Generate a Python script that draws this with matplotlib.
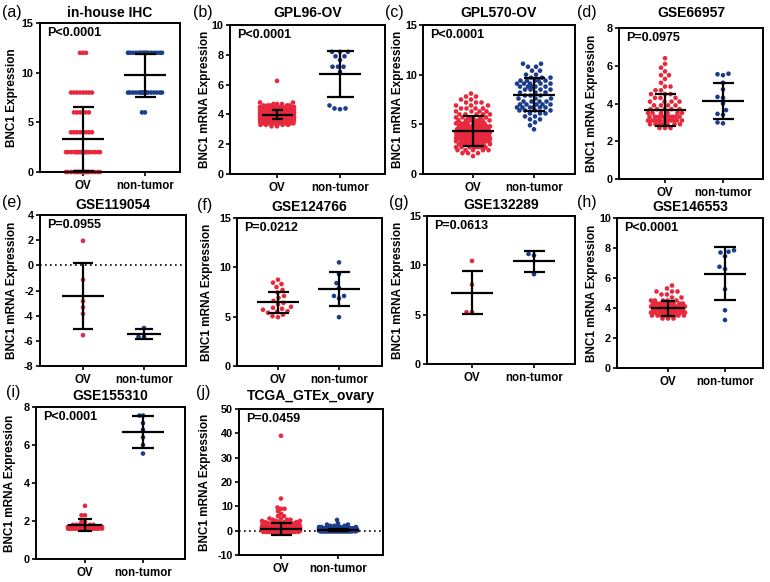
import numpy as np
import matplotlib
matplotlib.use("Agg")
import matplotlib.pyplot as plt

plt.rcParams['font.family'] = ['Liberation Sans', 'DejaVu Sans']

RED = "#e8283c"
BLUE = "#1c3d8c"

groups = ["OV", "non-tumor"]

# --------------------------------------------------
# data
# dense groups are given as value levels + counts
# --------------------------------------------------
# (a) in-house IHC (discrete scores)
ihc_ov_levels = [0, 2, 4, 6, 8, 12]
ihc_ov_counts = [18, 18, 8, 6, 8, 3]
ihc_nt_levels = [6, 8, 12]
ihc_nt_counts = [2, 16, 16]
ihc_mean = [3.3, 9.75]
ihc_sd = [3.2, 2.15]

# (b) GPL96-OV
gpl96_ov_levels = [3.2, 3.3, 3.4, 3.5, 3.6, 3.7, 3.8, 3.9, 4.0, 4.1, 4.2, 4.3,
                   4.4, 4.5, 4.6, 4.7, 4.8, 6.25]
gpl96_ov_counts = [2, 4, 8, 14, 22, 30, 38, 42, 42, 36, 28, 20, 12, 8, 5, 3, 2, 1]
gpl96_nt = [8.2, 8.2, 8.2, 7.9, 7.9, 7.65, 7.2, 7.2, 7.2, 6.85, 4.6, 4.4, 4.35, 4.4]
gpl96_mean = [3.98, 6.72]
gpl96_sd = [0.3, 1.55]

# (c) GPL570-OV
gpl570_ov_levels = [1.8, 2.1, 2.4, 2.7, 3.0, 3.3, 3.6, 3.9, 4.2, 4.5, 4.8, 5.1,
                    5.4, 5.7, 6.0, 6.3, 6.6, 6.9, 7.2, 7.5, 7.8, 8.1]
gpl570_ov_counts = [1, 3, 5, 7, 9, 11, 12, 12, 12, 11, 10, 8, 7, 6, 5, 4, 4, 3,
                    3, 2, 2, 1]
gpl570_nt_levels = [4.5, 4.9, 5.2, 5.5, 5.8, 6.1, 6.4, 6.7, 7.0, 7.3, 7.6, 7.9,
                    8.2, 8.5, 8.8, 9.1, 9.4, 9.7, 10.0, 10.4, 10.8, 11.1]
gpl570_nt_counts = [1, 1, 1, 2, 2, 3, 4, 6, 5, 4, 3, 3, 3, 4, 5, 5, 5, 3, 2, 2,
                    2, 2]
gpl570_mean = [4.33, 8.0]
gpl570_sd = [1.51, 1.63]

# (d) GSE66957
gse66957_ov_levels = [2.7, 2.9, 3.1, 3.3, 3.5, 3.7, 3.9, 4.1, 4.3, 4.5, 4.7, 4.9,
                      5.1, 5.3, 5.5, 5.7, 5.9, 6.1, 6.4]
gse66957_ov_counts = [3, 7, 11, 9, 6, 5, 4, 4, 3, 3, 2, 2, 1, 1, 2, 1, 1, 1, 1]
gse66957_nt = [5.55, 5.5, 5.58, 5.1, 4.75, 4.35, 4.3, 4.0, 3.65, 3.45, 3.4, 3.0, 2.95]
gse66957_mean = [3.65, 4.15]
gse66957_sd = [0.84, 0.96]

# (e) GSE119054
gse119054_ov = [1.95, -1.15, -2.85, -3.35, -3.85, -5.55]
gse119054_nt = [-4.98, -5.68, -5.68]
gse119054_mean = [-2.45, -5.45]
gse119054_sd = [2.6, 0.43]

# (f) GSE124766
gse124766_ov = [8.75, 8.45, 8.3, 8.0, 7.7, 7.45, 7.1, 6.9, 6.6, 6.4, 6.25, 6.0,
                5.9, 5.8, 5.7, 5.55, 5.5, 5.4, 5.2, 5.05, 4.95]
gse124766_nt = [10.5, 9.3, 8.4, 7.9, 7.1, 7.1, 6.85, 4.95]
gse124766_mean = [6.45, 7.78]
gse124766_sd = [1.1, 1.7]

# (g) GSE132289
gse132289_ov = [10.45, 8.05, 5.25, 5.25]
gse132289_nt = [11.15, 11.0, 9.1]
gse132289_mean = [7.24, 10.4]
gse132289_sd = [2.2, 1.1]

# (h) GSE146553
gse146553_ov_levels = [3.3, 3.5, 3.7, 3.9, 4.1, 4.3, 4.5, 4.7, 4.9, 5.1, 5.3, 5.5]
gse146553_ov_counts = [3, 8, 12, 14, 12, 8, 5, 2, 2, 3, 1, 1]
gse146553_nt = [7.7, 7.75, 7.85, 7.45, 6.75, 6.6, 5.25, 3.85, 3.2]
gse146553_mean = [3.97, 6.3]
gse146553_sd = [0.5, 1.75]

# (i) GSE155310
gse155310_ov_levels = [1.6, 1.7, 1.8, 1.95, 2.3, 2.8]
gse155310_ov_counts = [20, 20, 6, 2, 2, 1]
gse155310_nt = [7.55, 7.55, 7.15, 6.8, 6.4, 6.0, 5.55]
gse155310_mean = [1.78, 6.69]
gse155310_sd = [0.33, 0.85]

# (j) TCGA_GTEx_ovary
tcga_ov_levels = [-0.5, 0.0, 0.5, 1.0, 1.5, 2.0, 2.5, 3.0, 3.5, 4.0, 4.5, 5.0,
                  6.0, 7.0, 8.0, 9.0, 9.5, 13.2, 39.0]
tcga_ov_counts = [20, 120, 150, 90, 35, 18, 9, 6, 4, 3, 3, 2, 2, 1, 1, 2, 1, 1, 1]
tcga_nt_levels = [-0.3, 0.0, 0.3, 0.6, 1.0, 1.5, 2.0, 2.5, 3.0, 4.4]
tcga_nt_counts = [20, 60, 70, 40, 15, 5, 3, 2, 1, 1]
tcga_mean = [0.75, 0.35]
tcga_sd = [2.55, 0.45]


def expand(levels, counts):
    return np.repeat(np.asarray(levels, float), counts)


# --------------------------------------------------
# panel layout (pixel boxes: left, top, right, bottom)
# --------------------------------------------------
panels = [
    dict(lab="(a)", title="in-house IHC", p="P<0.0001", ylab="BNC1 Expression",
         box=(40, 23, 180, 172), tk=(83, 145), ylim=(0, 15), yt=[0, 5, 10, 15],
         vals=(expand(ihc_ov_levels, ihc_ov_counts), expand(ihc_nt_levels, ihc_nt_counts)),
         mean=ihc_mean, sd=ihc_sd, labxy=(2, 13), ty=13, ylx=12, gap=2.8),
    dict(lab="(b)", title="GPL96-OV", p="P<0.0001", box=(230, 25, 385, 174),
         tk=(277, 340), ylim=(0, 10), yt=[0, 2, 4, 6, 8, 10],
         vals=(expand(gpl96_ov_levels, gpl96_ov_counts), gpl96_nt),
         mean=gpl96_mean, sd=gpl96_sd, labxy=(193, 13), ty=13, ylx=205,
         bars=[(15.5, 5.5), (21, 13.5)]),
    dict(lab="(c)", title="GPL570-OV", p="P<0.0001", box=(423, 25, 575, 174),
         tk=(473, 534), ylim=(0, 15), yt=[0, 5, 10, 15],
         vals=(expand(gpl570_ov_levels, gpl570_ov_counts),
               expand(gpl570_nt_levels, gpl570_nt_counts)),
         mean=gpl570_mean, sd=gpl570_sd, labxy=(385, 13), ty=13, ylx=398),
    dict(lab="(d)", title="GSE66957", p="P=0.0975", box=(619, 28, 763, 179),
         tk=(665, 723), ylim=(0, 8), yt=[0, 2, 4, 6, 8],
         vals=(expand(gse66957_ov_levels, gse66957_ov_counts), gse66957_nt),
         mean=gse66957_mean, sd=gse66957_sd, labxy=(577, 13), ty=13, ylx=592),
    dict(lab="(e)", title="GSE119054", p="P=0.0955", box=(40, 215, 186, 366),
         tk=(83, 144), ylim=(-8, 4), yt=[-8, -6, -4, -2, 0, 2, 4],
         vals=(gse119054_ov, gse119054_nt), mean=gse119054_mean, sd=gse119054_sd,
         labxy=(2, 203), ty=205, ylx=12, zero=True, bars=[(21, 10), (16.7, 8.7)]),
    dict(lab="(f)", title="GSE124766", p="P=0.0212", box=(237, 218, 382, 366),
         tk=(278, 339), ylim=(0, 15), yt=[0, 5, 10, 15],
         vals=(gse124766_ov, gse124766_nt), mean=gse124766_mean, sd=gse124766_sd,
         labxy=(197, 205), ty=207, ylx=207),
    dict(lab="(g)", title="GSE132289", p="P=0.0613", box=(427, 216, 575, 364),
         tk=(472, 534), ylim=(0, 15), yt=[0, 5, 10, 15],
         vals=(gse132289_ov, gse132289_nt), mean=gse132289_mean, sd=gse132289_sd,
         labxy=(389, 203), ty=205, ylx=398),
    dict(lab="(h)", title="GSE146553", p="P<0.0001", box=(617, 218, 763, 368),
         tk=(668, 725), ylim=(0, 10), yt=[0, 2, 4, 6, 8, 10],
         vals=(expand(gse146553_ov_levels, gse146553_ov_counts), gse146553_nt),
         mean=gse146553_mean, sd=gse146553_sd, labxy=(577, 203), ty=207, ylx=592,
         bars=[(16.7, 7), (21, 11)]),
    dict(lab="(i)", title="GSE155310", p="P<0.0001", box=(36, 407, 185, 559),
         tk=(85, 143), ylim=(0, 8), yt=[0, 2, 4, 6, 8],
         vals=(expand(gse155310_ov_levels, gse155310_ov_counts), gse155310_nt),
         mean=gse155310_mean, sd=gse155310_sd, labxy=(6, 393), ty=396, ylx=10,
         bars=[(16.7, 6.7), (21, 10.7)], gap=3.2),
    dict(lab="(j)", title="TCGA_GTEx_ovary", p="P=0.0459", box=(239, 409, 383, 555),
         tk=(281, 338), ylim=(-10, 50), yt=[-10, 0, 10, 20, 30, 40, 50],
         vals=(expand(tcga_ov_levels, tcga_ov_counts), expand(tcga_nt_levels, tcga_nt_counts)),
         mean=tcga_mean, sd=tcga_sd, labxy=(196, 393), ty=396, ylx=205, zero=True,
         half=19, gap=3.5),
]

W, H = 770, 582
fig = plt.figure(figsize=(W / 100, H / 100), dpi=100)


def fx(px):
    return px / W


def fy(py):
    return 1 - py / H


def swarm_x(values, center, sx, sy, half_px, gap=5.5):
    # simple beeswarm in pixel space, clipped to +-half_px
    yp = np.asarray(values, float) * sy
    order = np.argsort(yp, kind="stable")
    cand = np.arange(-half_px, half_px + 0.01, 0.5)
    cand = cand[np.argsort(np.abs(cand), kind="stable")]
    out = np.zeros(len(yp))
    xs_p = np.empty(0)
    ys_p = np.empty(0)
    for i in order:
        near = np.abs(ys_p - yp[i]) < gap
        x = 0.0
        if near.any():
            dx = cand[:, None] - xs_p[near][None, :]
            dy = yp[i] - ys_p[near]
            dist = np.sqrt(dx ** 2 + dy[None, :] ** 2).min(axis=1)
            ok = np.nonzero(dist >= gap)[0]
            x = cand[ok[0]] if len(ok) else cand[np.argmax(dist)]
        out[i] = x
        xs_p = np.append(xs_p, x)
        ys_p = np.append(ys_p, yp[i])
    return center + out / sx


for pn in panels:
    l, t, r, b = pn["box"]
    ax = fig.add_axes([fx(l), fy(b), fx(r - l), (b - t) / H])
    p0, p1 = pn["tk"]
    unit = p1 - p0
    ax.set_xlim((l - p0) / unit, (r - p0) / unit)
    ax.set_ylim(*pn["ylim"])
    sx = unit
    sy = (b - t) / (pn["ylim"][1] - pn["ylim"][0])

    if pn.get("zero"):
        ax.axhline(0, color="black", lw=1.2, ls=(0, (1, 2)), zorder=1)

    half = pn.get("half", 17)
    gap = pn.get("gap", 5.5)
    bars = pn.get("bars", [(21, 10.5), (21, 10.5)])
    for k, (vals, col) in enumerate(zip(pn["vals"], [RED, BLUE])):
        xs = swarm_x(vals, k, sx, sy, half, gap)
        ax.scatter(xs, vals, s=11, color=col, edgecolors="none", zorder=2,
                   clip_on=False)
        m, s = pn["mean"][k], pn["sd"][k]
        mw, cw = bars[k][0] / sx, bars[k][1] / sx
        kw = dict(color="black", lw=1.6, solid_capstyle="butt", zorder=3)
        ax.plot([k - mw, k + mw], [m, m], **kw)
        ax.plot([k, k], [m - s, m + s], **kw)
        ax.plot([k - cw, k + cw], [m + s, m + s], **kw)
        ax.plot([k - cw, k + cw], [m - s, m - s], **kw)

    ax.set_xticks([0, 1])
    ax.set_xticklabels(groups, fontsize=8.3, fontweight="bold")
    ax.set_yticks(pn["yt"])
    ax.set_yticklabels([str(v) for v in pn["yt"]], fontsize=7.8, fontweight="bold")
    ax.tick_params(direction="out", length=3, width=1.2, pad=1.5)
    ax.tick_params(axis="x", pad=3)
    for sp in ax.spines.values():
        sp.set_linewidth(1.4)

    ax.text(7 / (r - l), 1 - 10 / (b - t), pn["p"], transform=ax.transAxes,
            fontsize=9, fontweight="bold", ha="left", va="center")

    fig.text(fx((l + r) / 2), fy(pn["ty"]), pn["title"], fontsize=10,
             fontweight="bold", ha="center", va="center")
    fig.text(fx(pn["labxy"][0]), fy(pn["labxy"][1]), pn["lab"], fontsize=11.5,
             ha="left", va="center")
    fig.text(fx(pn["ylx"]), fy((t + b) / 2), pn.get("ylab", "BNC1 mRNA Expression"),
             rotation=90, fontsize=8.5, fontweight="bold", ha="center", va="center")

fig.savefig("out.png", dpi=100)
